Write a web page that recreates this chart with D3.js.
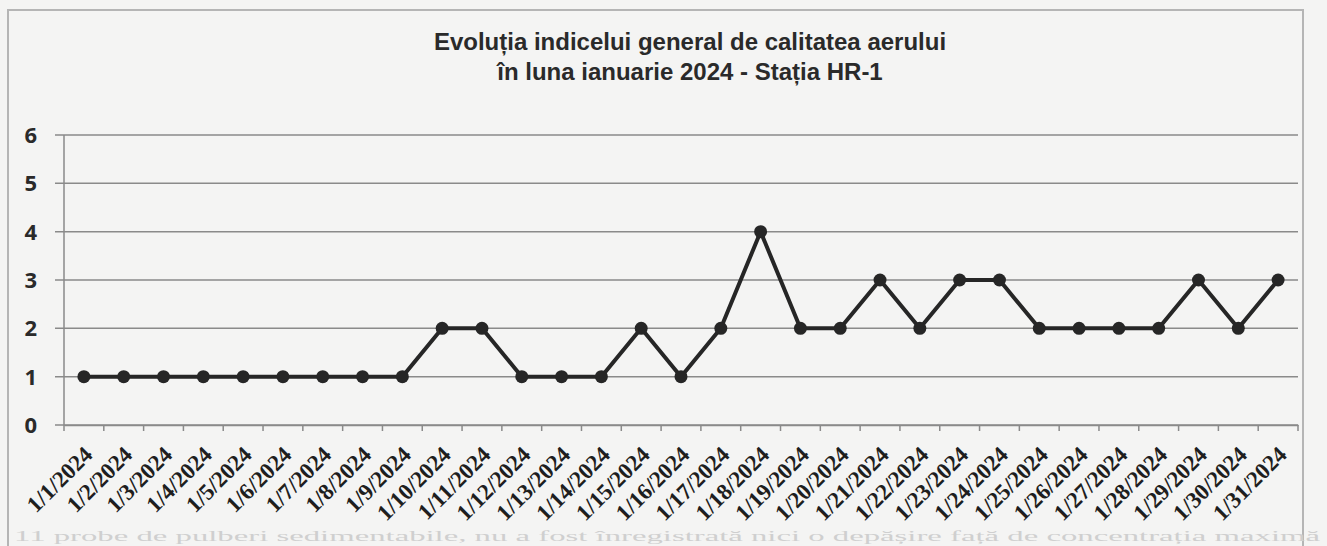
<!DOCTYPE html>
<html>
<head>
<meta charset="utf-8">
<script src="https://cdn.jsdelivr.net/npm/d3@7/dist/d3.min.js"></script>
<style>
  body { margin: 0; background: #f4f4f3; }
  .grid line { stroke: #8a8a8a; stroke-width: 1.5; }
  .xlab { font-family: "Liberation Serif", "Times New Roman", Tinos, "DejaVu Serif", serif; font-weight: bold; }
  .note { font-family: "Liberation Serif", "Times New Roman", Tinos, "DejaVu Serif", serif; }
</style>
</head>
<body>
<script>
//chart data
var dates = ["1/1/2024","1/2/2024","1/3/2024","1/4/2024","1/5/2024","1/6/2024","1/7/2024","1/8/2024",
             "1/9/2024","1/10/2024","1/11/2024","1/12/2024","1/13/2024","1/14/2024","1/15/2024","1/16/2024",
             "1/17/2024","1/18/2024","1/19/2024","1/20/2024","1/21/2024","1/22/2024","1/23/2024","1/24/2024",
             "1/25/2024","1/26/2024","1/27/2024","1/28/2024","1/29/2024","1/30/2024","1/31/2024"];
var indexValues = [1,1,1,1,1,1,1,1,1,2,2,1,1,1,2,1,2,4,2,2,3,2,3,3,2,2,2,2,3,2,3];
var yTicks = [0,1,2,3,4,5,6];
var titleLines = ["Evoluția indicelui general de calitatea aerului", "în luna ianuarie 2024 - Stația HR-1"];

var width = 1327,
    height = 546;

var svg = d3.select("body")
    .append("svg")
    .attr("width", width)
    .attr("height", height);

//frame of the chart
svg.append("path")
    .attr("d", "M8,546 L8,10 L1303,10 L1303,546")
    .attr("fill", "none")
    .attr("stroke", "#b5b5b5")
    .attr("stroke-width", 2);

var plotLeft = 64, plotRight = 1298, plotTop = 135, plotBottom = 425;

var x = d3.scaleBand()
    .domain(dates)
    .range([plotLeft, plotRight]);

var y = d3.scaleLinear()
    .domain([0, 6])
    .range([plotBottom, plotTop]);

//horizontal gridlines
svg.append("g")
    .attr("class", "grid")
    .selectAll("line")
    .data(yTicks)
    .enter()
    .append("line")
    .attr("x1", plotLeft - 9)
    .attr("x2", plotRight)
    .attr("y1", function(d){ return y(d); })
    .attr("y2", function(d){ return y(d); });

//y axis line
svg.append("line")
    .attr("x1", plotLeft).attr("x2", plotLeft)
    .attr("y1", plotTop).attr("y2", plotBottom)
    .attr("stroke", "#8a8a8a")
    .attr("stroke-width", 1.5);

//y labels
svg.selectAll(".ylab")
    .data(yTicks)
    .enter()
    .append("text")
    .attr("class", "ylab")
    .attr("x", 37)
    .attr("y", function(d){ return y(d) + 8; })
    .attr("text-anchor", "end")
    .attr("font-family", "'Open Sans', sans-serif")
    .attr("font-weight", "bold")
    .attr("font-size", 22)
    .attr("fill", "#2a2a2a")
    .text(function(d){ return d; });

//x axis line
var xAxis = d3.axisBottom(x).tickSize(0).tickFormat("");
var gx = svg.append("g")
    .attr("transform", "translate(0," + plotBottom + ")")
    .call(xAxis);
gx.select(".domain").attr("stroke", "#8a8a8a").attr("stroke-width", 1.5);

//tick marks at category borders
svg.selectAll(".xtick")
    .data(dates.concat(["end"]))
    .enter()
    .append("line")
    .attr("class", "xtick")
    .attr("x1", function(d, i){ return plotLeft + i * x.bandwidth(); })
    .attr("x2", function(d, i){ return plotLeft + i * x.bandwidth(); })
    .attr("y1", plotBottom)
    .attr("y2", plotBottom + 6)
    .attr("stroke", "#8a8a8a")
    .attr("stroke-width", 1.5);

//rotated date labels
svg.selectAll(".xlab")
    .data(dates)
    .enter()
    .append("text")
    .attr("class", "xlab")
    .attr("transform", function(d){
        return "translate(" + (x(d) + x.bandwidth() / 2 + 10) + "," + (plotBottom + 31) + ") rotate(-45)";
    })
    .attr("text-anchor", "end")
    .attr("font-size", 23)
    .attr("fill", "#1e1e1e")
    .text(function(d){ return d; });

//series line
var line = d3.line()
    .x(function(d, i){ return x(dates[i]) + x.bandwidth() / 2; })
    .y(function(d){ return y(d); });

svg.append("path")
    .datum(indexValues)
    .attr("fill", "none")
    .attr("stroke", "#262626")
    .attr("stroke-width", 4)
    .attr("stroke-linejoin", "round")
    .attr("d", line);

svg.selectAll(".pt")
    .data(indexValues)
    .enter()
    .append("circle")
    .attr("class", "pt")
    .attr("cx", function(d, i){ return x(dates[i]) + x.bandwidth() / 2; })
    .attr("cy", function(d){ return y(d); })
    .attr("r", 6.5)
    .attr("fill", "#262626");

//title
svg.selectAll(".title")
    .data(titleLines)
    .enter()
    .append("text")
    .attr("class", "title")
    .attr("x", 690)
    .attr("y", function(d, i){ return 50 + i * 30; })
    .attr("text-anchor", "middle")
    .attr("font-family", "'Liberation Sans', Arial, sans-serif")
    .attr("font-weight", "bold")
    .attr("font-size", 24)
    .attr("fill", "#2a2a2a")
    .text(function(d){ return d; });

//text of the page below
svg.append("text")
    .attr("class", "note")
    .attr("x", 14)
    .attr("y", 541)
    .attr("textLength", 1306)
    .attr("lengthAdjust", "spacingAndGlyphs")
    .attr("font-size", 15)
    .attr("fill", "#cfcfcf")
    .text("11 probe de pulberi sedimentabile, nu a fost înregistrată nici o depășire față de concentrația maximă");
</script>
</body>
</html>
